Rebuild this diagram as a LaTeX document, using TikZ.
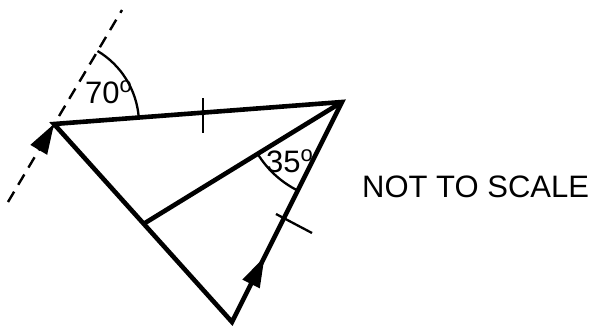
\documentclass[tikz,border=0pt]{standalone}
\usepackage{fontspec}
\setmainfont{Liberation Sans}
\usetikzlibrary{arrows.meta,calc}
\newcommand{\degsign}{\raisebox{10.8pt}{\fontsize{22}{22}\selectfont o}}
\begin{document}
\begin{tikzpicture}[x=1pt,y=-1pt,
  heavy/.style={line width=4.6pt,line join=miter,line cap=butt},
  thinline/.style={line width=2.3pt},
  dashline/.style={line width=2.4pt,dash pattern=on 12pt off 8pt},
  arrowtip/.style={line width=2pt,-{Triangle[length=30pt,width=19pt]}},
  lbl/.style={inner sep=0pt,font=\fontsize{31}{37}\selectfont}]
\useasboundingbox (0,0) rectangle (595,325);
\fill[white] (0,0) rectangle (595,325);
\coordinate (A) at (54,124);
\coordinate (B) at (342,102);
\coordinate (C) at (232,322);
\coordinate (D) at (145,223);
\coordinate (P) at (8,202);
\coordinate (Q) at (122,10);
\coordinate (T1a) at (203,98);
\coordinate (T1b) at (203,133);
\coordinate (T2a) at (276,214);
\coordinate (T2b) at (312,233);
% dashed line
\draw[dashline] (P) -- (Q);
% triangle
\draw[heavy] (A) -- (B) -- (C) -- cycle;
\draw[heavy] (B) -- (D);
% arrows
\coordinate (E) at ($(C)!0.295!(B)$);
\draw[arrowtip] ($(E)!30pt!(C)$) -- (E);
\draw[arrowtip] ($(A)!30pt!(P)$) -- (A);
% ticks
\draw[thinline] (T1a) -- (T1b);
\draw[thinline] (T2a) -- (T2b);
% angle arcs
\draw[thinline] ($(A)+(-59.2:85)$) arc[start angle=-59.2,end angle=-4.4,radius=85];
\draw[thinline] ($(B)+(148.4:99)$) arc[start angle=148.4,end angle=116.6,radius=99];
% labels
\node[lbl,anchor=base west] (l70) at (85,103) {70\degsign};
\node[lbl,anchor=base west] (l35) at (266,172) {35\degsign};
\node[lbl,anchor=base west] (nts) at (362,197) {NOT TO SCALE};
\end{tikzpicture}
\end{document}
